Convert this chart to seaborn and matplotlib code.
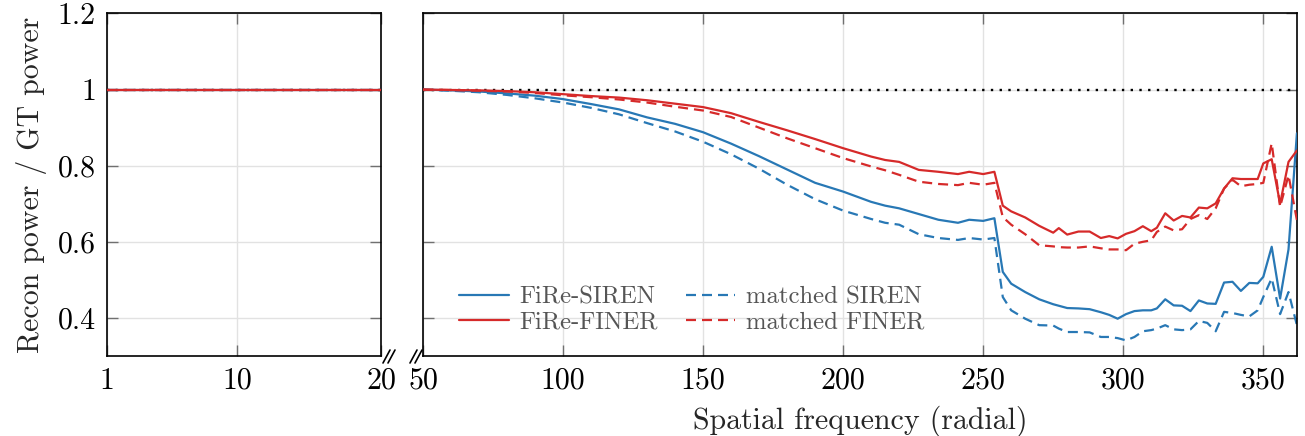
import numpy as np
import pandas as pd
import matplotlib
matplotlib.use("Agg")
import matplotlib.pyplot as plt
from matplotlib.ticker import FixedLocator, FixedFormatter
import seaborn as sns

# ---------------- data ----------------
low_freq = [1, 5, 10, 15, 20]
low_fire_siren = [1.0, 1.0, 1.0, 1.0, 1.0]
low_matched_siren = [1.0, 1.0, 1.0, 1.0, 1.0]
low_fire_finer = [1.0, 1.0, 1.0, 1.0, 1.0]
low_matched_finer = [1.0, 1.0, 1.0, 1.0, 1.0]

freq = [50, 60, 70, 80, 90, 100, 110, 120, 130, 140, 150, 160, 170, 180, 190,
        200, 210, 215, 220, 227, 234, 241, 245, 250, 254, 257, 260, 265, 270,
        275, 277, 280, 284, 288, 292, 295, 298, 301, 304, 307, 310, 312, 315,
        318, 321, 324, 327, 330, 333, 336, 339, 342, 345, 348, 350, 353, 356,
        359, 362]
fire_siren = [1.0, 0.998, 0.995, 0.990, 0.984, 0.975, 0.962, 0.948, 0.927, 0.910,
              0.888, 0.858, 0.825, 0.790, 0.755, 0.732, 0.705, 0.695, 0.688, 0.673,
              0.658, 0.650, 0.658, 0.655, 0.662, 0.521, 0.490, 0.468, 0.449, 0.436,
              0.432, 0.426, 0.425, 0.423, 0.415, 0.408, 0.398, 0.410, 0.418, 0.420,
              0.420, 0.425, 0.449, 0.433, 0.432, 0.418, 0.446, 0.438, 0.437, 0.493,
              0.495, 0.471, 0.492, 0.491, 0.508, 0.587, 0.451, 0.580, 0.885]
matched_siren = [1.0, 0.997, 0.993, 0.986, 0.977, 0.966, 0.952, 0.935, 0.912, 0.890,
                 0.863, 0.830, 0.792, 0.750, 0.712, 0.682, 0.660, 0.650, 0.645, 0.620,
                 0.610, 0.605, 0.610, 0.606, 0.610, 0.455, 0.420, 0.398, 0.381, 0.380,
                 0.372, 0.363, 0.363, 0.362, 0.350, 0.350, 0.347, 0.341, 0.350, 0.365,
                 0.368, 0.372, 0.381, 0.370, 0.368, 0.370, 0.392, 0.387, 0.365, 0.416,
                 0.413, 0.408, 0.404, 0.420, 0.455, 0.504, 0.410, 0.468, 0.381]
fire_finer = [1.0, 0.999, 0.998, 0.996, 0.993, 0.988, 0.983, 0.979, 0.972, 0.963,
              0.954, 0.938, 0.915, 0.893, 0.870, 0.846, 0.824, 0.815, 0.810, 0.789,
              0.784, 0.778, 0.784, 0.778, 0.784, 0.695, 0.680, 0.664, 0.642, 0.624,
              0.636, 0.619, 0.627, 0.627, 0.610, 0.615, 0.609, 0.621, 0.628, 0.641,
              0.628, 0.637, 0.675, 0.656, 0.668, 0.664, 0.690, 0.688, 0.701, 0.740,
              0.767, 0.765, 0.765, 0.765, 0.806, 0.817, 0.700, 0.810, 0.840]
matched_finer = [1.0, 0.999, 0.997, 0.995, 0.991, 0.985, 0.980, 0.974, 0.966, 0.955,
                 0.945, 0.928, 0.900, 0.872, 0.846, 0.820, 0.798, 0.788, 0.776, 0.758,
                 0.752, 0.749, 0.755, 0.750, 0.755, 0.665, 0.645, 0.620, 0.591, 0.588,
                 0.586, 0.585, 0.585, 0.588, 0.583, 0.580, 0.580, 0.578, 0.595, 0.600,
                 0.604, 0.626, 0.640, 0.630, 0.633, 0.660, 0.670, 0.660, 0.688, 0.740,
                 0.763, 0.746, 0.750, 0.752, 0.755, 0.859, 0.692, 0.775, 0.657]

series_names = ["FiRe-SIREN", "FiRe-FINER", "matched SIREN", "matched FINER"]

left_xticks = [1, 10, 20]
left_xticklabels = ["1", "10", "20"]
right_xticks = [50, 100, 150, 200, 250, 300, 350]
right_xticklabels = ["50", "100", "150", "200", "250", "300", "350"]
yticks = [0.4, 0.6, 0.8, 1.0, 1.2]
yticklabels = ["0.4", "0.6", "0.8", "1", "1.2"]

# ---------------- style ----------------
sns.set_theme(style="white")
plt.rcParams["font.family"] = ["cmr10", "DejaVu Serif"]
plt.rcParams["axes.formatter.use_mathtext"] = True
plt.rcParams["mathtext.fontset"] = "cm"

BLUE = "#2878b5"
RED = "#d62a2a"
GRID = "#e2e2e2"
TICKC = "#707070"
LW = 1.6
FS = 21.5

fig = plt.figure(figsize=(13.05, 4.36), dpi=100)
axL = fig.add_axes([0.082, 0.1835, 0.210, 0.7856])
axR = fig.add_axes([0.3241, 0.1835, 0.6697, 0.7856])

dash = (4.5, 2.7)

def draw(ax, x, fs, ms, ff, mf, legend=False):
    df = pd.DataFrame({"x": x, "fs": fs, "ms": ms, "ff": ff, "mf": mf})
    ax.axhline(1.0, color="black", lw=1.7, linestyle=(0, (1, 2.7)), zorder=1)
    sns.lineplot(data=df, x="x", y="ms", ax=ax, color=BLUE, lw=LW,
                 label=series_names[2] if legend else None,
                 zorder=2).lines[-1].set_dashes(dash)
    sns.lineplot(data=df, x="x", y="fs", ax=ax, color=BLUE, lw=LW,
                 label=series_names[0] if legend else None, zorder=3)
    sns.lineplot(data=df, x="x", y="mf", ax=ax, color=RED, lw=LW,
                 label=series_names[3] if legend else None,
                 zorder=4).lines[-1].set_dashes(dash)
    sns.lineplot(data=df, x="x", y="ff", ax=ax, color=RED, lw=LW,
                 label=series_names[1] if legend else None, zorder=5)

draw(axL, low_freq, low_fire_siren, low_matched_siren, low_fire_finer, low_matched_finer)
draw(axR, freq, fire_siren, matched_siren, fire_finer, matched_finer, legend=True)

for ax in (axL, axR):
    ax.set_ylim(0.3, 1.2)
    ax.yaxis.set_major_locator(FixedLocator(yticks))
    ax.grid(True, color=GRID, lw=1.0, zorder=0)
    ax.set_axisbelow(True)
    ax.tick_params(direction="in", length=8, width=1.0, color=TICKC,
                   top=True, right=True, bottom=True, left=True,
                   labelsize=FS, pad=8, labelcolor="black")
    for s in ax.spines.values():
        s.set_color("black")
        s.set_linewidth(1.2)
    ax.set_xlabel("")
    ax.set_ylabel("")

axL.set_xlim(1, 20)
axL.xaxis.set_major_locator(FixedLocator(left_xticks))
axL.xaxis.set_major_formatter(FixedFormatter(left_xticklabels))
axL.yaxis.set_major_formatter(FixedFormatter(yticklabels))
axL.set_ylabel("Recon power / GT power", fontsize=FS, labelpad=8)

axR.set_xlim(50, 362)
axR.xaxis.set_major_locator(FixedLocator(right_xticks))
axR.xaxis.set_major_formatter(FixedFormatter(right_xticklabels))
axR.tick_params(labelleft=False)
axR.set_xlabel("Spatial frequency (radial)", fontsize=FS, labelpad=8)

# legend
handles, labels = axR.get_legend_handles_labels()
order = [labels.index(n) for n in series_names]
leg = axR.legend([handles[i] for i in order], [labels[i] for i in order],
                 ncol=2, loc="lower left", bbox_to_anchor=(0.016, 0.0),
                 frameon=False, fontsize=17.8, handlelength=2.0,
                 columnspacing=1.15, labelspacing=0.12, handletextpad=0.42)
for t in leg.get_texts():
    t.set_color("#555555")

# axis break marks
kw = dict(color="black", lw=1.2, clip_on=False, transform=fig.transFigure)
W, H = 1305.0, 436.0
for x0 in (383, 388, 410, 415):
    fig.add_artist(plt.Line2D([x0 / W, (x0 + 7) / W], [1 - 363 / H, 1 - 350 / H], **kw))

fig.savefig("out.png", dpi=100)
